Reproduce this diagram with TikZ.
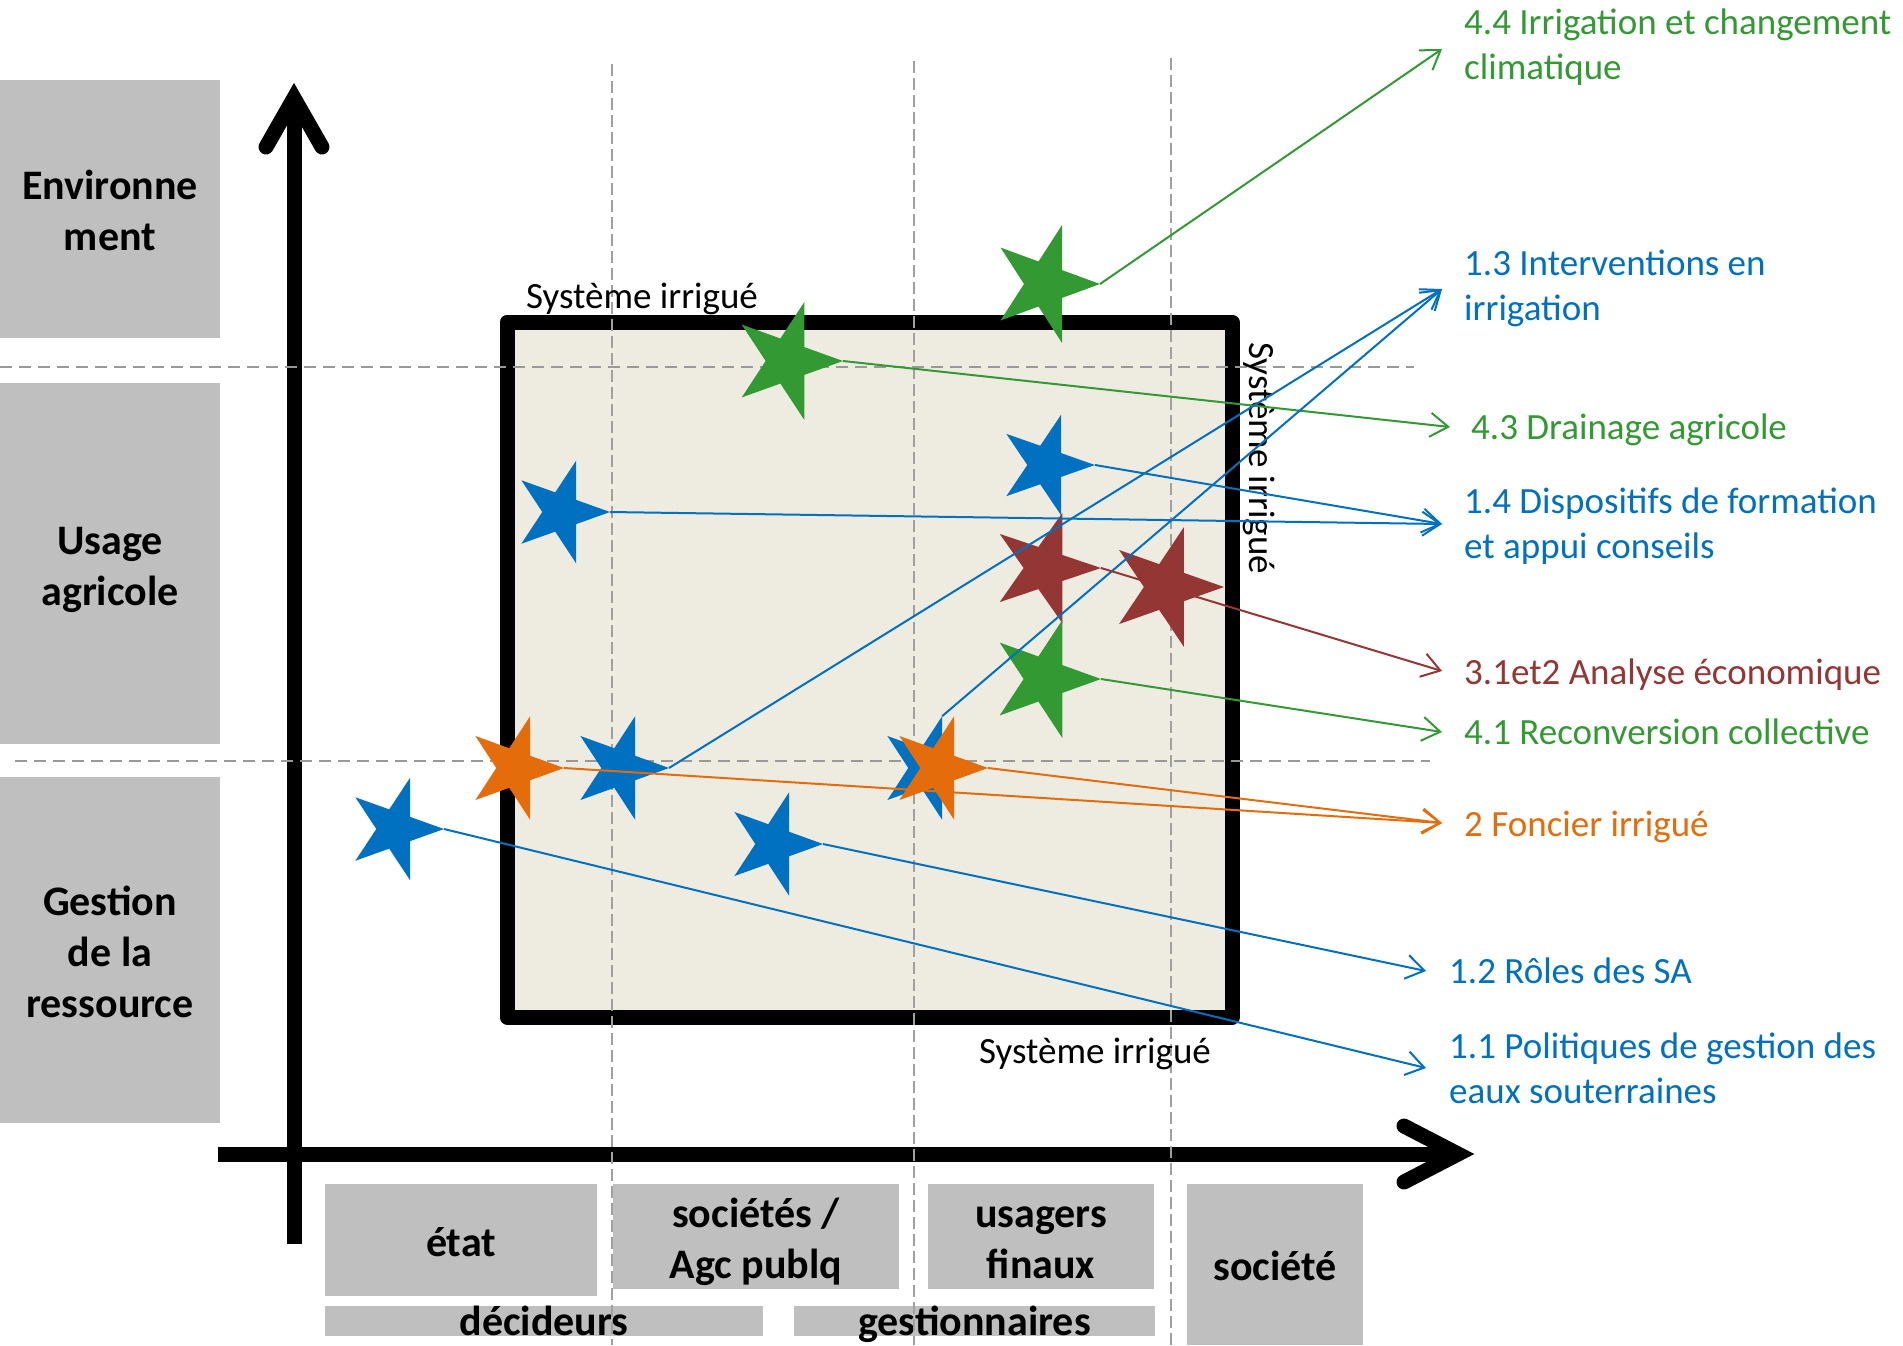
\documentclass[tikz,border=0pt]{standalone}
\usepackage{fontspec}
\setmainfont{Carlito}
\usetikzlibrary{arrows.meta}
\definecolor{cgreen}{HTML}{339933}
\definecolor{cblue}{HTML}{0070C0}
\definecolor{cbrown}{HTML}{943634}
\definecolor{corange}{HTML}{E46C0A}
\definecolor{cgreybox}{HTML}{BFBFBF}
\definecolor{cbeige}{HTML}{EEECE1}
\definecolor{cdashv}{HTML}{A0A0A0}
\definecolor{cdashh}{HTML}{999999}
\newcommand{\vstr}{\rule[-0.2em]{0pt}{1.18em}}
\newcommand{\drawstar}[6]{%
  \begin{scope}[shift={(#2,#3)}, xscale=#4, yscale=#5]
    \fill[#6] (0:1) -- (36:0.382) -- (72:1) -- (108:0.382) -- (144:1) -- (180:0.382)
      -- (216:1) -- (252:0.382) -- (288:1) -- (324:0.382) -- cycle;
    \coordinate (#1) at (0,0);
    \coordinate (#1-r) at (0:1);
    \coordinate (#1-t) at (288:1);
  \end{scope}}
\tikzset{
  greybox/.style={fill=cgreybox, inner sep=0pt, font=\fontsize{42}{51}\selectfont\bfseries, align=center},
  lbl/.style={font=\fontsize{37}{45}\selectfont, align=left, inner sep=0pt, anchor=base west},
  sysl/.style={font=\fontsize{37}{45}\selectfont, inner sep=0pt, anchor=base},
  dashv/.style={cdashv, line width=1.2pt, dash pattern=on 12pt off 5pt},
  dashh/.style={cdashh, line width=2pt, dash pattern=on 12pt off 7pt},
  axisline/.style={line width=15pt},
  axishead/.style={line width=15pt, line cap=round, line join=miter},
  conn/.style={line width=2pt, -{Straight Barb[length=18pt,width=24pt]}},
}
\begin{document}
\begin{tikzpicture}[x=1pt,y=-1pt]
\useasboundingbox (0,0) rectangle (1903,1345);
\fill[white] (0,0) rectangle (1903,1345);

% left category boxes
\node[greybox, minimum width=220pt, minimum height=258pt] (env) at (110,209) {\vstr Environne\\\vstr ment};
\node[greybox, minimum width=220pt, minimum height=361pt] (usage) at (110,563.5) {\vstr Usage\\\vstr agricole};
\node[greybox, minimum width=220pt, minimum height=346pt] (gest) at (110,950) {\vstr Gestion\\\vstr de la\\\vstr ressource};

% bottom category boxes
\node[greybox, minimum width=272pt, minimum height=112pt] (etat) at (461,1240) {\vstr état};
\node[greybox, minimum width=286pt, minimum height=105pt] (socs) at (756,1236.5) {\vstr sociétés /\\\vstr Agc publq};
\node[greybox, minimum width=226pt, minimum height=105pt] (usag) at (1041,1236.5) {\vstr usagers\\\vstr finaux};
\node[greybox, minimum width=176pt, minimum height=161pt] (soc) at (1275,1264.5) {\vstr société};
\node[greybox, minimum width=438pt, text height=30pt, text depth=0pt, anchor=south] (dec) at (544,1336) {décideurs};
\node[greybox, minimum width=361pt, text height=30pt, text depth=0pt, anchor=south] (gesn) at (974.5,1336) {gestionnaires};

% irrigated system frame
\node[draw, line width=15pt, line join=round, fill=cbeige, inner sep=0pt,
      minimum width=725pt, minimum height=695pt] (sys) at (869.5,669.5) {};

% axes
\draw[axisline] (294,1244) -- (294,100);
\draw[axishead] (266,147) -- (294,98) -- (322,147);
\draw[axisline] (218,1154) -- (1456,1154);
\draw[axishead] (1404,1126) -- (1458,1154) -- (1404,1182);

% dashed guide lines
\draw[dashh] (0,367) -- (1414,367);
\draw[dashh] (15,761) -- (1430,761);
\draw[dashv] (612,64) -- (612,1345);
\draw[dashv] (914,61) -- (914,1345);
\draw[dashv] (1171,58) -- (1171,1345);

% frame labels
\node[sysl] (systop) at (642,308) {Système irrigué};
\node[sysl] (sysbot) at (1095,1063) {Système irrigué};
\node[sysl, rotate=-90] (sysright) at (1249,458) {Système irrigué};

% stars
\drawstar{g44}{1045}{284}{55}{62}{cgreen}
\drawstar{g43}{787}{361}{56}{62}{cgreen}
\drawstar{b14a}{561}{512}{49}{54}{cblue}
\drawstar{b14b}{1046}{465}{49}{53}{cblue}
\drawstar{br1}{1045}{568}{56}{58}{cbrown}
\drawstar{br2}{1166}{587}{58}{63}{cbrown}
\drawstar{g41}{1045}{679}{56}{62}{cgreen}
\drawstar{b3}{927}{768}{49}{54.5}{cblue}
\drawstar{o1}{515}{768}{49}{54.5}{corange}
\drawstar{b2}{620}{768}{49}{54.5}{cblue}
\drawstar{o2}{939}{768}{49}{54.5}{corange}
\drawstar{b12}{774}{844}{49}{54.5}{cblue}
\drawstar{b11}{395}{829}{49}{54}{cblue}

% right labels (base anchor = baseline of the last line)
\node[lbl, text=cgreen] (l44) at (1464,79) {4.4 Irrigation et changement\\climatique};
\node[lbl, text=cblue] (l13) at (1464,320) {1.3 Interventions en\\irrigation};
\node[lbl, text=cgreen] (l43) at (1471,439) {4.3 Drainage agricole};
\node[lbl, text=cblue] (l14) at (1464,558) {1.4 Dispositifs de formation\\et appui conseils};
\node[lbl, text=cbrown] (l31) at (1464,684) {3.1et2 Analyse économique};
\node[lbl, text=cgreen] (l41) at (1464,744) {4.1 Reconversion collective};
\node[lbl, text=corange] (l2) at (1464,836) {2 Foncier irrigué};
\node[lbl, text=cblue] (l12) at (1449,983) {1.2 Rôles des SA};
\node[lbl, text=cblue] (l11) at (1449,1103) {1.1 Politiques de gestion des\\eaux souterraines};

% arrow targets
\coordinate (t44) at (1442,49);
\coordinate (t13) at (1442,289);
\coordinate (t43) at (1450,427);
\coordinate (t14) at (1442,524);
\coordinate (t31) at (1442,671);
\coordinate (t41) at (1442,732);
\coordinate (t2) at (1442,823);
\coordinate (t12) at (1426,971);
\coordinate (t11) at (1426,1068);

% connectors
\draw[conn, cgreen] (g44-r) -- (t44);
\draw[conn, cgreen] (g43-r) -- (t43);
\draw[conn, cblue] (b2-r) -- (t13);
\draw[conn, cblue] (b3-t) -- (t13);
\draw[conn, cblue] (b14a-r) -- (t14);
\draw[conn, cblue] (b14b-r) -- (t14);
\draw[conn, cbrown] (br1-r) -- (t31);
\draw[conn, cgreen] (g41-r) -- (t41);
\draw[conn, corange] (o1-r) -- (t2);
\draw[conn, corange] (o2-r) -- (t2);
\draw[conn, cblue] (b12-r) -- (t12);
\draw[conn, cblue] (b11-r) -- (t11);
\end{tikzpicture}
\end{document}
